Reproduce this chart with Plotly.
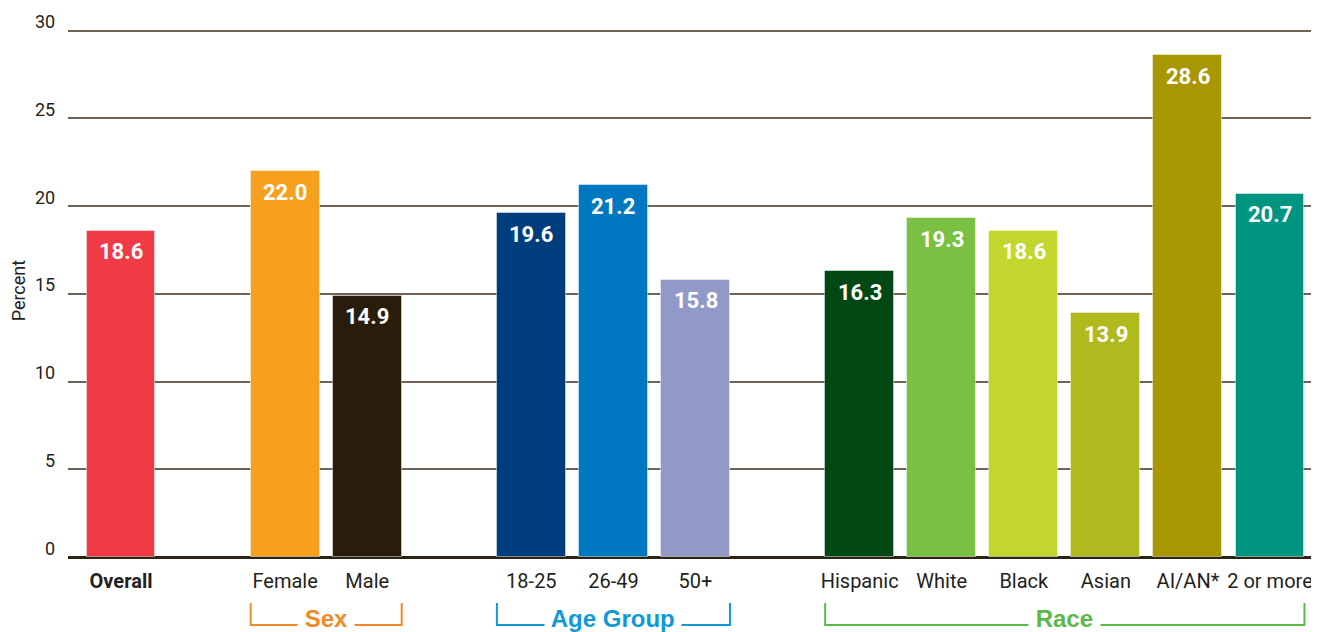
import plotly.graph_objects as go

categories = ["Overall", " ", "Female", "Male", "  ", "18-25", "26-49", "50+", "   ",
              "Hispanic", "White", "Black", "Asian", "AI/AN*", "2 or more"]
values = [18.6, None, 22.0, 14.9, None, 19.6, 21.2, 15.8, None,
          16.3, 19.3, 18.6, 13.9, 28.6, 20.7]
bar_colors = ["#ef3b45", "#ffffff", "#f6a01e", "#291c0b", "#ffffff", "#003d7c", "#0078c1", "#9199c9", "#ffffff",
              "#024814", "#7ac143", "#c2d62e", "#b0ba1f", "#a89700", "#009580"]
tick_text = ["<b>Overall</b>", "", "Female", "Male", "", "18-25", "26-49", "50+", "",
             "Hispanic", "White", "Black", "Asian", "AI/AN*", "2 or more"]
y_ticks = [0, 5, 10, 15, 20, 25, 30]
groups = [("Sex", 2, 3, "#f08a24"), ("Age Group", 5, 7, "#0f9ad6"), ("Race", 9, 14, "#5cb848")]

FONT = "Roboto, Liberation Sans, sans-serif"
BW = 0.84

fig = go.Figure()
fig.add_trace(go.Bar(
    x=categories, y=values, width=BW,
    marker=dict(color=bar_colors, line=dict(color="rgba(255,255,255,0.45)", width=1)),
    hoverinfo="skip",
))

ann = []
for c, v in zip(categories, values):
    if v is None:
        continue
    ann.append(dict(x=c, y=v, xref="x", yref="y", text=f"<b>{v:.1f}</b>", showarrow=False,
                    yanchor="middle", yshift=-21, font=dict(family=FONT, size=22, color="white")))
for t in y_ticks:
    ann.append(dict(x=0, y=t, xref="paper", yref="y", text=str(t), showarrow=False,
                    xanchor="right", yanchor="middle", xshift=-11, yshift=9,
                    font=dict(family=FONT, size=18, color="#231f20")))
ann.append(dict(x=0, y=0.505, xref="paper", yref="paper", text="Percent", showarrow=False,
                textangle=-90, xanchor="center", yanchor="middle", xshift=-50,
                font=dict(family=FONT, size=18, color="#231f20")))

shapes = []
for name, i0, i1, col in groups:
    x0 = i0 - BW / 2
    x1 = i1 + BW / 2
    shapes.append(dict(type="path", xref="x", yref="paper",
                       path=f"M {x0},-0.0871 L {x0},-0.1288 L {x1},-0.1288 L {x1},-0.0871",
                       line=dict(color=col, width=2)))
    ann.append(dict(x=(i0 + i1) / 2, y=-0.1174, xref="x", yref="paper", text=f"<b> {name} </b>",
                    showarrow=False, yanchor="middle", bgcolor="white", borderpad=0,
                    font=dict(family="Liberation Sans, Arial, sans-serif", size=24, color=col),
                    ))

fig.update_layout(
    width=1311, height=624,
    margin=dict(l=60, r=0, t=21, b=75, autoexpand=False),
    paper_bgcolor="white", plot_bgcolor="white",
    showlegend=False,
    bargap=0,
    annotations=ann,
    shapes=shapes,
    xaxis=dict(type="category", categoryorder="array", categoryarray=categories,
               range=[-0.646, 14.597], tickmode="array", tickvals=categories, ticktext=tick_text,
               showgrid=False, ticks="", showline=False, zeroline=False, tickangle=0,
               automargin=False, ticklabelstandoff=10,
               tickfont=dict(family=FONT, size=20, color="#231f20")),
    yaxis=dict(range=[0, 30.1], tickvals=y_ticks, showticklabels=False, showgrid=True,
               gridcolor="#6e6457", gridwidth=1.5, zeroline=True, zerolinecolor="#2b2316",
               zerolinewidth=3, showline=False, ticks="", fixedrange=True, automargin=False),
)
fig.write_html("out.html")
